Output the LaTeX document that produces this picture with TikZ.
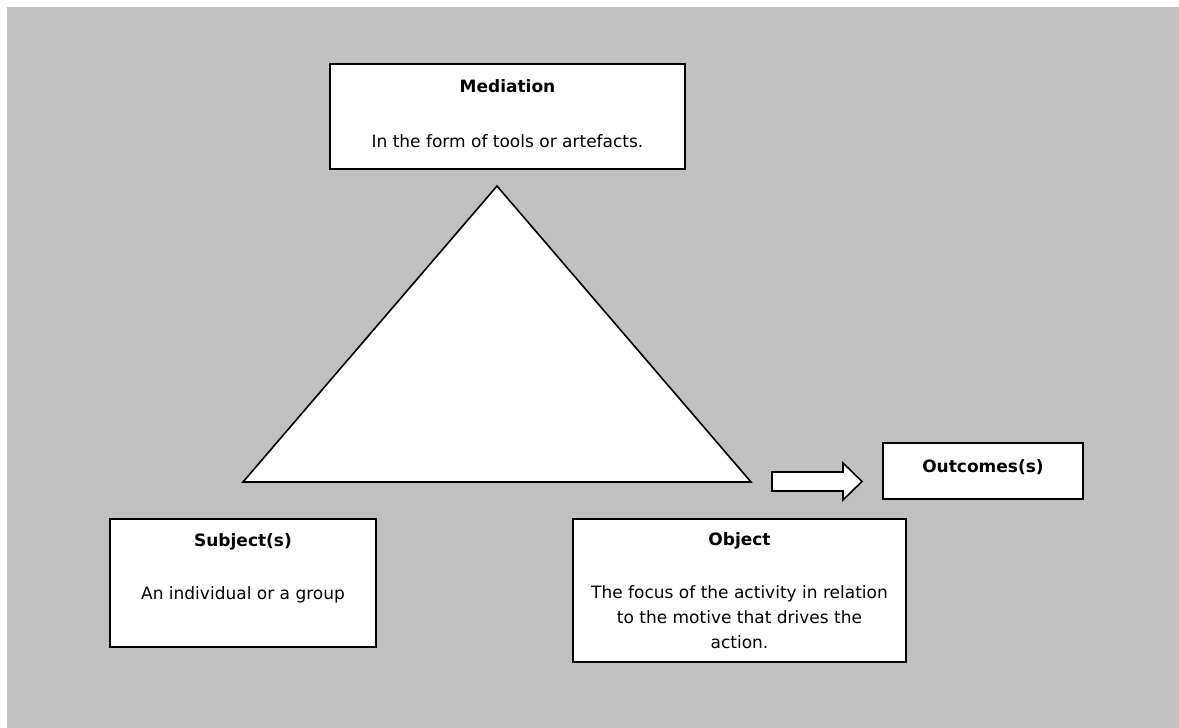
\documentclass[tikz,border=0pt]{standalone}
\usepackage{fontspec}
\setmainfont{DejaVu Sans}
\begin{document}
\begin{tikzpicture}[x=1pt,y=-1pt,
  box/.style={draw=black,line width=1.8pt,fill=white,rectangle,inner sep=0pt,outer sep=0pt},
  ttl/.style={anchor=base,inner sep=0pt,font=\fontsize{17}{25}\selectfont\bfseries},
  txt/.style={anchor=base,inner sep=0pt,font=\fontsize{17}{25}\selectfont,align=center},
  shp/.style={draw=black,line width=1.6pt,fill=white,line join=miter}]
\useasboundingbox (0,0) rectangle (1179,728);
\fill[fill={rgb,255:red,192;green,192;blue,192}] (7,7) rectangle (1179,728);
% triangle
\coordinate (apex) at (497,186);
\coordinate (bl) at (243,482);
\coordinate (br) at (751,482);
\draw[shp] (apex) -- (br) -- (bl) -- cycle;
% boxes
\node[box,minimum width=355pt,minimum height=105pt] (med) at (507.5,116.5) {};
\node[box,minimum width=200pt,minimum height=56pt] (out) at (983,471) {};
\node[box,minimum width=266pt,minimum height=128pt] (sub) at (243,583) {};
\node[box,minimum width=333pt,minimum height=143pt] (obj) at (739.5,590.5) {};
% texts
\node[ttl] (medt) at (507.5,92) {Mediation};
\node[txt] (medb) at (507.5,147) {In the form of tools or artefacts.};
\node[ttl] (outt) at (983,472) {Outcomes(s)};
\node[ttl] (subt) at (243,546) {Subject(s)};
\node[txt] (subb) at (243,599) {An individual or a group};
\node[ttl] (objt) at (739.5,545) {Object};
\node[txt,anchor=north] (objb) at (739.5,585) {The focus of the activity in relation\\to the motive that drives the\\action.};
% block arrow
\draw[shp] (772,472) -- (843,472) -- (843,463) -- (862,481.5) -- (843,500) -- (843,491) -- (772,491) -- cycle;
\end{tikzpicture}
\end{document}
